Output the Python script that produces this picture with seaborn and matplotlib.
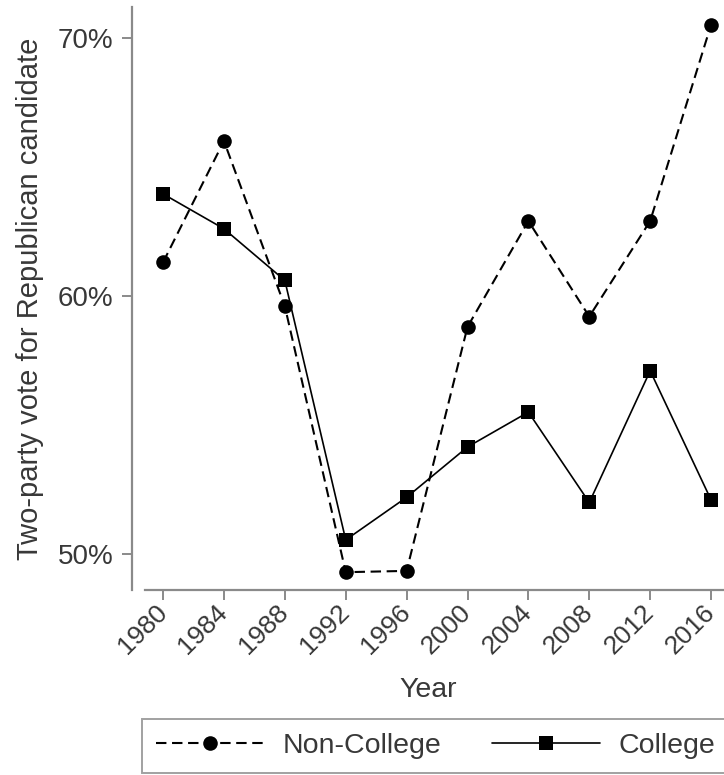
import pandas as pd
import matplotlib
matplotlib.use("Agg")
import matplotlib.pyplot as plt
import seaborn as sns
from matplotlib.ticker import FuncFormatter

# values
years = [1980, 1984, 1988, 1992, 1996, 2000, 2004, 2008, 2012, 2016]
non_college = [61.3, 66.0, 59.6, 49.3, 49.35, 58.8, 62.9, 59.2, 62.9, 70.5]
college = [63.95, 62.6, 60.6, 50.55, 52.2, 54.15, 55.5, 52.0, 57.1, 52.1]
groups = ["Non-College", "College"]
y_ticks = [50, 60, 70]

df = pd.DataFrame({
    "Year": years * 2,
    "share": non_college + college,
    "group": [groups[0]] * len(years) + [groups[1]] * len(years),
})

sns.set_style("white")
plt.rcParams["font.family"] = ["Liberation Sans", "DejaVu Sans"]
text_col = "#383838"
axis_col = "#8a8a8a"

fig = plt.figure(figsize=(7.24, 7.75), dpi=100)
ax = fig.add_axes([132 / 724, 1 - 590 / 775, 1 - 132 / 724, (590 - 7) / 775])

sns.lineplot(data=df, x="Year", y="share", style="group", style_order=groups,
             markers={"Non-College": "o", "College": "s"},
             dashes={"Non-College": (5, 2.7), "College": ""},
             color="black", markersize=10.5, markeredgewidth=0, legend=False, ax=ax)
for ln, lw in zip(ax.lines, [1.5, 1.2]):
    ln.set_linewidth(lw)

ax.set_xlim(1977.96, 2016.85)
ax.set_ylim(48.61, 71.19)
ax.set_xticks(years)
ax.set_yticks(y_ticks)
ax.yaxis.set_major_formatter(FuncFormatter(lambda v, p: f"{v:.0f}%"))

for s in ["top", "right"]:
    ax.spines[s].set_visible(False)
for s in ["left", "bottom"]:
    ax.spines[s].set_color(axis_col)
    ax.spines[s].set_linewidth(1.6)
ax.spines["bottom"].set_bounds(1978.8, 2016.85)

ax.tick_params(axis="both", direction="out", length=7.5, width=1.4, color=axis_col,
               labelcolor=text_col, left=True, bottom=True)
ax.tick_params(axis="y", pad=6, labelsize=20)
ax.tick_params(axis="x", pad=6, labelsize=19)
for lab in ax.get_xticklabels():
    lab.set_rotation(45)
    lab.set_ha("right")
    lab.set_va("center")
    lab.set_rotation_mode("anchor")

ax.set_xlabel("Year", fontsize=20.5, color=text_col, labelpad=13)
ax.set_ylabel("Two-party vote for Republican candidate", fontsize=21, color=text_col, labelpad=10)

leg = fig.legend([ax.lines[0], ax.lines[1]], groups, loc="upper left",
                 bbox_to_anchor=(142 / 724, 1 - 719 / 775), borderaxespad=0,
                 ncol=2, fontsize=20.5, handlelength=3.8, frameon=True, fancybox=False,
                 borderpad=0.5, columnspacing=1.75, handletextpad=0.65, labelcolor=text_col)
leg.get_frame().set_edgecolor(axis_col)
leg.get_frame().set_linewidth(1.4)

fig.savefig("out.png", dpi=100)
